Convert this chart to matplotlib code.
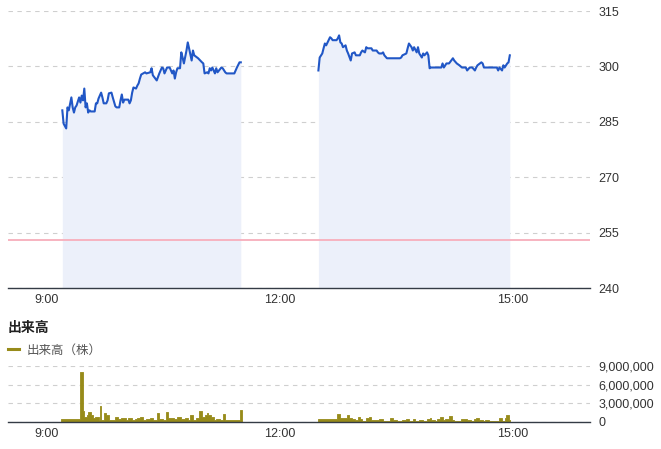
import matplotlib
matplotlib.use("Agg")
import matplotlib.pyplot as plt
from matplotlib.lines import Line2D
from matplotlib.ticker import FuncFormatter

plt.rcParams['font.family'] = ['Noto Sans CJK JP', 'DejaVu Sans']

# minutes after 9:00 and price (yen)
am_min = [12, 13, 15, 16, 17, 19, 20, 21, 22, 23, 25, 26, 27, 28, 29, 30, 31, 32, 33, 34,
          37, 38, 39, 40, 42, 43, 44, 46, 47, 48, 50, 51, 53, 54, 56, 57, 58, 59, 60, 63,
          64, 65, 66, 67, 69, 70, 71, 72, 73, 76, 77, 80, 81, 82, 85, 87, 89, 90, 91, 93,
          95, 97, 98, 99, 100, 101, 103, 104, 105, 106, 108, 109, 110, 112, 113, 114, 117,
          120, 121, 122, 124, 125, 126, 127, 128, 130, 131, 132, 135, 136, 138, 139, 145,
          147, 149, 150]
am_price = [288.1, 284.5, 283.2, 288.9, 288.1, 291.6, 288.9, 287.5, 288.9, 289.4, 291.6,
            290.2, 292.1, 290.8, 294.0, 288.9, 290.0, 287.5, 288.1, 287.8, 287.8, 290.0,
            290.0, 291.3, 292.9, 291.6, 290.0, 290.0, 290.8, 292.7, 292.9, 291.6, 289.2,
            288.9, 288.9, 290.8, 292.4, 290.2, 291.0, 291.0, 290.0, 290.8, 292.9, 294.3,
            294.0, 294.8, 295.4, 296.7, 297.8, 298.4, 298.1, 298.4, 299.5, 297.6, 296.2,
            298.1, 299.7, 299.5, 298.1, 299.7, 299.7, 298.1, 298.9, 296.7, 298.4, 299.5,
            299.5, 303.8, 302.4, 300.8, 304.3, 306.5, 304.9, 301.6, 304.3, 303.0, 302.2,
            301.1, 300.8, 298.1, 298.4, 298.1, 299.5, 298.9, 299.7, 298.1, 299.5, 298.4,
            299.7, 299.5, 298.4, 298.1, 298.1, 299.7, 301.1, 301.1]

pm_min = [210, 211, 213, 214, 215, 216, 219, 220, 221, 224, 225, 226, 227, 228, 229, 231,
          232, 233, 235, 236, 238, 239, 242, 243, 244, 246, 247, 248, 251, 252, 255, 256,
          257, 259, 260, 261, 263, 267, 273, 274, 275, 278, 279, 280, 282, 283, 284, 286,
          287, 288, 290, 291, 292, 294, 295, 296, 297, 300, 305, 306, 307, 309, 311, 314,
          315, 317, 319, 321, 324, 325, 327, 329, 331, 332, 333, 336, 337, 338, 341, 344,
          348, 349, 350, 352, 353, 354, 356, 357, 358]
pm_price = [298.9, 302.4, 303.5, 304.9, 306.2, 305.7, 307.9, 307.6, 307.1, 307.1, 307.6,
            308.4, 306.5, 306.2, 305.2, 305.7, 304.3, 303.5, 301.6, 303.5, 303.8, 303.0,
            303.0, 303.8, 304.3, 303.8, 305.2, 304.9, 304.9, 304.3, 304.3, 303.8, 303.5,
            303.5, 303.8, 303.0, 302.2, 302.2, 302.2, 302.4, 303.0, 303.5, 304.9, 306.2,
            305.2, 304.3, 305.2, 303.8, 305.2, 303.5, 302.4, 303.5, 303.0, 303.8, 303.0,
            299.5, 299.7, 299.7, 299.7, 300.8, 299.7, 300.8, 300.8, 302.2, 301.6, 300.8,
            300.3, 299.7, 299.7, 298.9, 299.7, 299.7, 298.9, 299.7, 300.3, 301.1, 300.8,
            299.7, 299.7, 299.7, 299.7, 298.9, 299.7, 298.9, 300.3, 299.7, 300.8, 301.1,
            303.0]

prev_close = 253

# volume (shares): bin start minutes after 9:00
am_vol_min = [11, 26, 28, 29, 31, 32, 34, 36, 37, 40, 41, 42, 44, 46, 48, 50, 53, 55, 57,
              61, 63, 66, 68, 70, 72, 74, 77, 80, 82, 85, 87, 90, 92, 94, 98, 101, 104,
              107, 109, 111, 113, 115, 118, 120, 122, 124, 125, 127, 129, 131, 134, 136,
              138, 141, 144, 149]
am_vol = [0.42e6, 8.05e6, 1.84e6, 0.8e6, 1.05e6, 1.58e6, 1.2e6, 0.7e6, 0.8e6, 0.25e6,
          2.6e6, 0.37e6, 1.4e6, 1.2e6, 0.37e6, 0.25e6, 0.8e6, 0.42e6, 0.7e6, 0.37e6,
          0.7e6, 0.25e6, 0.5e6, 0.7e6, 0.8e6, 0.37e6, 0.5e6, 0.65e6, 0.37e6, 1.42e6,
          0.53e6, 0.37e6, 1.58e6, 0.68e6, 0.53e6, 0.79e6, 0.53e6, 0.63e6, 0.26e6, 1.1e6,
          0.37e6, 0.68e6, 1.84e6, 0.79e6, 1.05e6, 1.42e6, 1.05e6, 0.79e6, 0.26e6, 0.53e6,
          0.26e6, 1.3e6, 0.26e6, 0.37e6, 0.26e6, 2.0e6]
am_vol_end = 150.6

pm_vol_min = [210, 224, 227, 229, 232, 234, 236, 238, 241, 242, 244, 247, 249, 251, 253,
              257, 260, 265, 268, 271, 275, 278, 280, 283, 285, 288, 291, 294, 296, 297,
              300, 302, 304, 306, 308, 311, 313, 315, 320, 325, 328, 330, 332, 334, 337,
              339, 342, 350, 352, 354, 355, 357]
pm_vol = [0.42e6, 1.3e6, 0.63e6, 0.68e6, 1.05e6, 0.68e6, 0.42e6, 0.26e6, 0.79e6, 0.42e6,
          0.16e6, 0.68e6, 0.79e6, 0.37e6, 0.26e6, 0.42e6, 0.16e6, 0.63e6, 0.26e6, 0.16e6,
          0.26e6, 0.42e6, 0.16e6, 0.42e6, 0.16e6, 0.26e6, 0.16e6, 0.53e6, 0.63e6, 0.26e6,
          0.16e6, 0.42e6, 0.79e6, 0.26e6, 0.42e6, 0.95e6, 0.37e6, 0.16e6, 0.42e6, 0.26e6,
          0.16e6, 0.42e6, 0.63e6, 0.26e6, 0.16e6, 0.26e6, 0.16e6, 0.68e6, 0.16e6, 0.63e6,
          1.16e6, 0.26e6]
pm_vol_end = 358

x_ticks = [0, 180, 360]
x_labels = ['9:00', '12:00', '15:00']
price_ticks = [240, 255, 270, 285, 300, 315]
vol_ticks = [0, 3e6, 6e6, 9e6]

line_c = '#2157c6'
fill_c = '#ecf0fa'
vol_c = '#978b1a'
grid_c = '#cfcfcf'
axis_c = '#343b45'
text_c = '#333333'

fig = plt.figure(figsize=(6.61, 4.49), dpi=100)
ax = fig.add_axes([8 / 661, 1 - 288 / 449, 582 / 661, 277 / 449])
axv = fig.add_axes([8 / 661, 1 - 422 / 449, 582 / 661, 56 / 449])

for a in (ax, axv):
    a.set_xlim(-30, 420)
    for s in ('top', 'left', 'right'):
        a.spines[s].set_visible(False)
    a.spines['bottom'].set_color(axis_c)
    a.spines['bottom'].set_linewidth(1.0)
    a.yaxis.tick_right()
    a.tick_params(axis='both', length=0, labelsize=9, labelcolor=text_c)
    a.tick_params(axis='y', pad=6)
    a.tick_params(axis='x', pad=4)
    a.set_xticks(x_ticks)
    a.set_xticklabels(x_labels)
    a.grid(axis='y', color=grid_c, linestyle=(0, (4, 4)), linewidth=0.8)
    a.set_axisbelow(True)

# price panel
ax.set_ylim(240, 315)
ax.set_yticks(price_ticks)
for t, p in ((am_min, am_price), (pm_min, pm_price)):
    ax.fill_between(t, p, 240, color=fill_c, linewidth=0, zorder=1)
    ax.plot(t, p, color=line_c, linewidth=1.5, zorder=3)
ax.axhline(prev_close, color='#f7b3c0', linewidth=1.4, zorder=2)

# volume panel
axv.set_ylim(0, 9e6)
axv.set_yticks(vol_ticks)
axv.yaxis.set_major_formatter(FuncFormatter(lambda v, _: f'{int(v):,}'))
for t, v, end in ((am_vol_min, am_vol, am_vol_end), (pm_vol_min, pm_vol, pm_vol_end)):
    axv.fill_between(t + [end], v + [v[-1]], 0, step='post', color=vol_c,
                     linewidth=0.6, edgecolor=vol_c, zorder=2)

for a in (ax, axv):
    for lab in a.get_xticklabels() + a.get_yticklabels():
        lab.set_fontfamily(['Liberation Sans', 'DejaVu Sans'])

fig.text(8 / 661, 1 - 328 / 449, '出来高', fontsize=10, fontweight='bold',
         color='#222222', va='center', ha='left')
handle = Line2D([0], [0], color=vol_c, linewidth=2.2)
fig.legend([handle], ['出来高（株）'], loc='center left',
           bbox_to_anchor=(8 / 661, 1 - 350 / 449), frameon=False,
           borderpad=0, borderaxespad=0,
           handlelength=0.85, handletextpad=0.6, fontsize=9, labelcolor='#555555')

fig.savefig('out.png', dpi=100)
